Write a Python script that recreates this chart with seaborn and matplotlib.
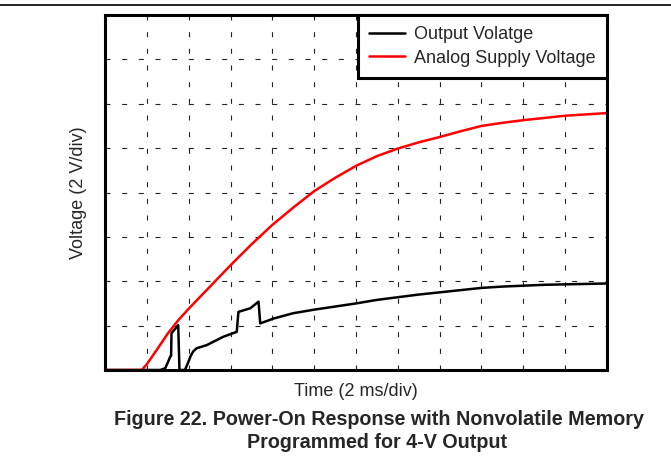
import matplotlib
matplotlib.use("Agg")
import matplotlib.pyplot as plt
import seaborn as sns
import pandas as pd
from matplotlib.lines import Line2D

# Readings taken off the scope trace (time in ms, voltage in V)
supply_t = [0, 1.76, 2.0, 2.5, 3.0, 3.5, 4.0, 5.0, 6.0, 7.0, 8.0, 9.0, 10.0, 11.0,
            12.0, 13.0, 14.0, 15.0, 16.0, 17.0, 18.0, 19.0, 20.0, 21.0, 22.0, 23.0, 24.0]
supply_v = [0, 0, 0.26, 0.94, 1.64, 2.24, 2.76, 3.74, 4.72, 5.66, 6.54, 7.32, 8.06, 8.66,
            9.20, 9.64, 9.98, 10.26, 10.5, 10.76, 11.0, 11.14, 11.26, 11.36, 11.46, 11.52, 11.58]

output_t = [0, 2.64, 2.88, 3.02, 3.12, 3.16, 3.18, 3.50, 3.56, 3.82, 3.96, 4.10, 4.22, 4.38,
            4.86, 5.66, 6.30, 6.34, 6.38, 6.94, 7.34, 7.38, 7.42, 8.06, 9.0, 10.0, 11.0, 12.0,
            13.0, 14.0, 15.0, 16.0, 17.0, 18.0, 19.0, 20.0, 21.0, 22.0, 23.0, 24.0]
output_v = [0, 0, 0.08, 0.38, 0.60, 0.64, 1.66, 2.02, 0, 0, 0.30, 0.64, 0.84, 0.98,
            1.12, 1.50, 1.72, 2.20, 2.62, 2.78, 3.08, 2.60, 2.10, 2.32, 2.56, 2.72, 2.86, 3.00,
            3.16, 3.28, 3.40, 3.50, 3.60, 3.70, 3.76, 3.80, 3.84, 3.86, 3.88, 3.90]

labels = ["Output Volatge", "Analog Supply Voltage"]
colors = ["black", "#ff0000"]

df = pd.concat([
    pd.DataFrame({"t": output_t, "v": output_v, "trace": labels[0]}),
    pd.DataFrame({"t": supply_t, "v": supply_v, "trace": labels[1]}),
])

sns.set_style("white")
plt.rcParams["font.family"] = ["Liberation Sans", "DejaVu Sans"]

fig = plt.figure(figsize=(6.71, 4.72), dpi=100)
ax = fig.add_axes([105 / 671, 1 - 370 / 472, 502 / 671, 355 / 472])

sns.lineplot(data=df, x="t", y="v", hue="trace", palette=colors, hue_order=labels,
             sort=False, estimator=None, linewidth=1.8, ax=ax, legend=False)

ax.set_xlim(0, 24)
ax.set_ylim(0, 16)
ax.set_xticks(range(0, 25, 2))
ax.set_yticks(range(0, 17, 2))
ax.tick_params(length=0, labelbottom=False, labelleft=False)
ax.grid(True, color="#222222", linewidth=0.8, linestyle=(0, (4.5, 10.5)))
for s in ax.spines.values():
    s.set_color("black")
    s.set_linewidth(2.2)
    s.set_visible(True)

ax.set_xlabel("Time (2 ms/div)", fontsize=13, labelpad=9)
ax.set_ylabel("Voltage (2 V/div)", fontsize=13, labelpad=13)

handles = [Line2D([], [], color=c, linewidth=1.8) for c in colors]
leg = ax.legend(handles, labels, loc="upper right", fontsize=13, frameon=True,
                fancybox=False, borderaxespad=0, handlelength=2.0, handletextpad=0.5,
                labelspacing=0.35, borderpad=0.62, framealpha=1)
leg.get_frame().set_edgecolor("black")
leg.get_frame().set_linewidth(2.2)

fig.text(0.565, 1 - 425 / 472, "Figure 22. Power-On Response with Nonvolatile Memory",
         ha="center", va="baseline", fontsize=14.2, fontweight="bold")
fig.text(0.562, 1 - 448 / 472, "Programmed for 4-V Output",
         ha="center", va="baseline", fontsize=14.2, fontweight="bold")

fig.add_artist(Line2D([0, 1], [1 - 5 / 472, 1 - 5 / 472], transform=fig.transFigure,
                      color="black", linewidth=1.2))

fig.savefig("out.png", dpi=100)
